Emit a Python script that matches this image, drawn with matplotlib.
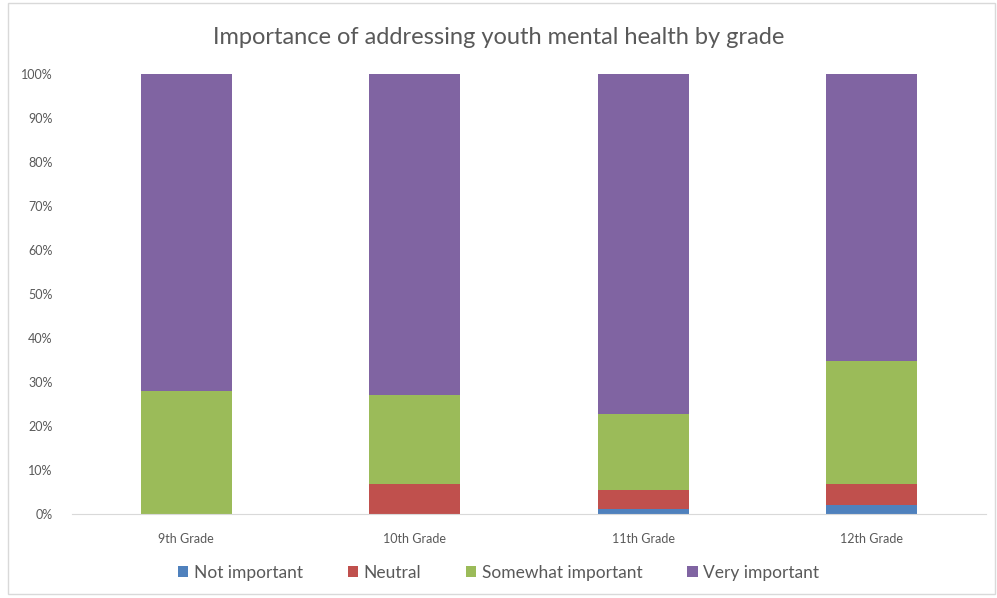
import matplotlib.pyplot as plt
import matplotlib.patches as mpatches
from matplotlib.ticker import PercentFormatter
import numpy as np

plt.rcParams['font.family'] = ['Lato', 'DejaVu Sans']

# data (percent of each grade)
grades = ['9th Grade', '10th Grade', '11th Grade', '12th Grade']
not_important = [0.0, 0.0, 1.1, 2.0]
neutral = [0.0, 6.8, 4.4, 4.8]
somewhat_important = [28.0, 20.2, 17.2, 28.0]
very_important = [72.0, 73.0, 77.3, 65.2]

series = [
    ('Not important', not_important, '#4F81BD'),
    ('Neutral', neutral, '#C0504D'),
    ('Somewhat important', somewhat_important, '#9BBB59'),
    ('Very important', very_important, '#8064A2'),
]

fig = plt.figure(figsize=(9.97, 5.98), dpi=100)
ax = fig.add_axes([72 / 997, 1 - 514 / 598, 914 / 997, 440 / 598])

# light border round the whole chart, like the excel chart area
fig.patches.append(mpatches.Rectangle((8 / 997, 4 / 598), 987 / 997, 591 / 598,
                                      transform=fig.transFigure, fill=False,
                                      edgecolor='#D9D9D9', linewidth=1))

x = np.arange(len(grades))
bottom = np.zeros(len(grades))
handles = []
for name, vals, col in series:
    b = ax.bar(x, vals, width=0.4, bottom=bottom, color=col, label=name)
    bottom += np.array(vals)
    handles.append(b)

ax.set_xlim(-0.5, 3.5)
ax.set_ylim(0, 100)
ax.set_yticks(range(0, 101, 10))
ax.yaxis.set_major_formatter(PercentFormatter(decimals=0))
ax.set_xticks(x)
ax.set_xticklabels(grades)

for s in ['top', 'right', 'left']:
    ax.spines[s].set_visible(False)
ax.spines['bottom'].set_color('#D9D9D9')
ax.tick_params(axis='both', length=0, colors='#595959', labelsize=9)
ax.tick_params(axis='y', pad=14)
ax.tick_params(axis='x', pad=14)

fig.text(0.5, 1 - 37 / 598, 'Importance of addressing youth mental health by grade',
         ha='center', va='center', fontsize=17, color='#595959')

fig.legend(handles=handles, loc='center', bbox_to_anchor=(0.5, 1 - 573 / 598),
           ncol=4, frameon=False, fontsize=12.5, handlelength=0.6, handleheight=0.6,
           handletextpad=0.3, columnspacing=2.6, labelcolor='#595959')

fig.savefig('out.png', dpi=100)
